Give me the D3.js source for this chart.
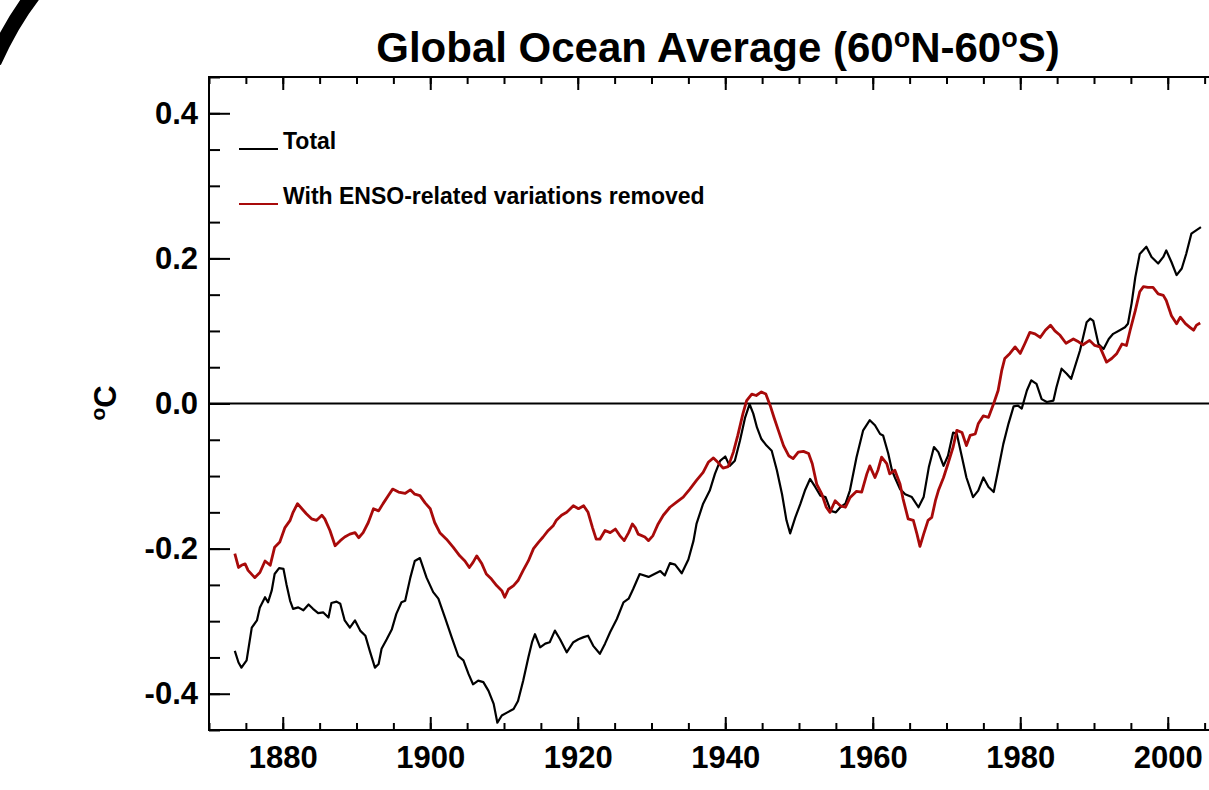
<!DOCTYPE html>
<html>
<head>
<meta charset="utf-8">
<style>
body { margin: 0; background: #fff; }
svg { display: block; }
text { font-family: "Liberation Sans", Arial, Helvetica, sans-serif; font-weight: bold; fill: #000; }
.axis path, .axis line { stroke: #000; stroke-width: 2px; }
</style>
</head>
<body>
<svg width="1209" height="790"></svg>
<script src="https://d3js.org/d3.v7.min.js"></script>
<script>
// values (year, deg C)
var totalYear = [1873.5,1874.0,1874.4,1875.1,1875.8,1876.5,1876.9,1877.6,1878.0,1878.5,1878.9,1879.5,1880.1,1880.5,1881.0,1881.4,1882.1,1882.8,1883.5,1884.1,1884.8,1885.5,1886.2,1886.6,1887.3,1887.8,1888.4,1889.1,1889.8,1890.5,1891.2,1891.8,1892.5,1893.0,1893.4,1894.1,1894.8,1895.4,1896.1,1896.6,1897.3,1897.9,1898.6,1899.5,1900.4,1901.1,1902.0,1902.9,1903.8,1904.5,1905.2,1905.8,1906.5,1907.2,1907.9,1908.6,1909.1,1909.7,1910.4,1911.3,1911.9,1912.6,1913.3,1913.8,1914.2,1914.9,1915.6,1916.2,1916.9,1917.6,1918.5,1919.4,1920.1,1920.8,1921.4,1922.1,1923.0,1923.7,1924.4,1925.3,1926.2,1926.9,1927.5,1928.4,1929.6,1931.2,1931.8,1932.5,1933.2,1934.1,1935.0,1935.7,1936.1,1937.0,1937.9,1938.6,1939.3,1940.0,1940.6,1941.3,1942.0,1942.7,1943.3,1943.8,1944.3,1944.9,1945.6,1946.3,1947.0,1947.7,1948.3,1948.8,1949.5,1950.2,1950.8,1951.5,1952.2,1952.9,1953.6,1954.3,1955.0,1955.6,1956.3,1956.9,1957.8,1958.7,1959.6,1960.3,1961.0,1961.4,1962.1,1962.6,1963.0,1963.7,1964.4,1965.3,1966.2,1966.9,1967.6,1968.3,1968.9,1969.6,1970.2,1970.9,1971.4,1972.1,1972.7,1973.6,1974.3,1975.0,1975.7,1976.4,1977.0,1977.7,1978.4,1979.1,1979.7,1980.2,1980.9,1981.5,1982.2,1982.9,1983.6,1984.5,1984.9,1985.6,1986.3,1986.9,1988.1,1989.0,1989.5,1989.9,1990.6,1991.3,1992.0,1992.6,1993.5,1994.2,1994.6,1995.1,1995.6,1996.2,1997.1,1997.8,1998.7,1999.4,1999.8,2000.5,2001.2,2001.9,2002.5,2003.2,2003.9,2004.5];
var totalTemp = [-0.341,-0.357,-0.364,-0.354,-0.309,-0.299,-0.281,-0.267,-0.274,-0.258,-0.235,-0.227,-0.228,-0.249,-0.272,-0.283,-0.281,-0.285,-0.277,-0.283,-0.289,-0.288,-0.295,-0.275,-0.273,-0.276,-0.299,-0.309,-0.299,-0.313,-0.320,-0.341,-0.364,-0.359,-0.338,-0.325,-0.311,-0.290,-0.274,-0.272,-0.240,-0.217,-0.213,-0.240,-0.260,-0.269,-0.295,-0.322,-0.348,-0.354,-0.373,-0.387,-0.382,-0.384,-0.396,-0.414,-0.440,-0.430,-0.426,-0.421,-0.410,-0.382,-0.350,-0.329,-0.318,-0.336,-0.331,-0.329,-0.313,-0.325,-0.343,-0.329,-0.325,-0.322,-0.320,-0.334,-0.345,-0.331,-0.315,-0.297,-0.274,-0.269,-0.256,-0.235,-0.239,-0.231,-0.237,-0.220,-0.222,-0.234,-0.215,-0.189,-0.166,-0.138,-0.120,-0.097,-0.079,-0.073,-0.086,-0.079,-0.051,-0.019,-0.001,-0.014,-0.033,-0.049,-0.058,-0.065,-0.092,-0.125,-0.161,-0.179,-0.157,-0.138,-0.120,-0.104,-0.115,-0.127,-0.129,-0.148,-0.150,-0.143,-0.138,-0.120,-0.074,-0.037,-0.023,-0.030,-0.042,-0.044,-0.069,-0.092,-0.102,-0.118,-0.125,-0.129,-0.143,-0.129,-0.088,-0.060,-0.067,-0.086,-0.072,-0.040,-0.042,-0.074,-0.102,-0.129,-0.120,-0.102,-0.115,-0.122,-0.092,-0.056,-0.028,-0.004,-0.003,-0.007,0.018,0.032,0.027,0.006,0.002,0.004,0.022,0.048,0.041,0.034,0.073,0.112,0.117,0.114,0.082,0.075,0.089,0.096,0.101,0.105,0.110,0.138,0.174,0.206,0.216,0.202,0.193,0.202,0.211,0.195,0.177,0.186,0.206,0.234,0.239,0.243];

var ensoYear = [1873.5,1874.0,1874.4,1874.9,1875.3,1876.2,1876.9,1877.6,1878.3,1878.9,1879.6,1880.3,1881.0,1881.4,1882.0,1882.6,1883.2,1883.9,1884.6,1885.3,1885.7,1886.4,1887.1,1887.8,1888.4,1889.1,1889.8,1890.3,1890.9,1891.6,1892.3,1893.0,1893.6,1894.3,1894.9,1895.7,1896.6,1897.3,1897.9,1898.6,1899.3,1900.0,1900.6,1901.3,1902.2,1903.1,1904.0,1904.7,1905.3,1905.8,1906.3,1907.0,1907.6,1908.3,1909.0,1909.7,1910.1,1910.6,1911.3,1911.9,1912.6,1913.3,1914.0,1914.7,1915.3,1916.0,1916.7,1917.1,1917.8,1918.5,1919.4,1920.1,1920.8,1921.4,1922.0,1922.5,1923.0,1923.7,1924.4,1925.1,1925.7,1926.3,1926.9,1927.4,1927.8,1928.2,1929.1,1929.6,1930.2,1930.9,1931.6,1932.5,1933.4,1934.3,1935.2,1936.1,1937.0,1937.7,1938.4,1939.0,1939.7,1940.4,1941.1,1941.7,1942.4,1942.9,1943.6,1944.2,1944.9,1945.5,1946.1,1946.6,1947.2,1947.9,1948.6,1949.2,1949.9,1950.6,1951.3,1951.8,1952.4,1953.1,1953.7,1954.2,1954.9,1955.6,1956.3,1956.9,1957.8,1958.5,1959.2,1959.6,1960.3,1960.7,1961.2,1961.9,1962.3,1963.0,1963.7,1964.1,1964.8,1965.5,1966.0,1966.4,1966.9,1967.5,1968.0,1968.5,1968.9,1969.6,1970.2,1970.9,1971.4,1972.1,1972.7,1973.2,1973.9,1974.3,1975.0,1975.7,1976.4,1977.0,1977.5,1977.9,1978.6,1979.3,1980.0,1980.6,1981.3,1982.0,1982.7,1983.4,1984.1,1984.7,1985.4,1986.2,1987.2,1987.9,1988.5,1989.4,1990.1,1990.8,1991.7,1992.4,1993.1,1993.8,1994.4,1994.9,1995.6,1996.2,1996.7,1997.3,1998.0,1998.7,1999.4,1999.8,2000.5,2001.2,2001.7,2002.4,2003.0,2003.5,2003.9,2004.4];
var ensoTemp = [-0.207,-0.226,-0.223,-0.221,-0.230,-0.240,-0.233,-0.217,-0.223,-0.198,-0.191,-0.171,-0.161,-0.150,-0.138,-0.145,-0.152,-0.159,-0.161,-0.154,-0.159,-0.175,-0.196,-0.189,-0.184,-0.180,-0.178,-0.185,-0.178,-0.164,-0.145,-0.148,-0.138,-0.127,-0.118,-0.122,-0.124,-0.119,-0.125,-0.127,-0.137,-0.145,-0.164,-0.178,-0.187,-0.198,-0.210,-0.217,-0.226,-0.219,-0.210,-0.221,-0.235,-0.242,-0.251,-0.258,-0.267,-0.256,-0.251,-0.244,-0.230,-0.217,-0.200,-0.191,-0.184,-0.175,-0.168,-0.161,-0.154,-0.150,-0.141,-0.145,-0.141,-0.150,-0.171,-0.187,-0.187,-0.175,-0.178,-0.173,-0.182,-0.189,-0.178,-0.166,-0.171,-0.180,-0.184,-0.189,-0.182,-0.166,-0.154,-0.143,-0.136,-0.129,-0.118,-0.106,-0.095,-0.081,-0.075,-0.081,-0.089,-0.087,-0.067,-0.044,-0.014,0.004,0.013,0.011,0.016,0.013,-0.003,-0.019,-0.037,-0.058,-0.072,-0.076,-0.067,-0.066,-0.069,-0.083,-0.111,-0.125,-0.143,-0.150,-0.134,-0.141,-0.143,-0.130,-0.121,-0.122,-0.097,-0.086,-0.102,-0.092,-0.074,-0.083,-0.097,-0.092,-0.111,-0.131,-0.159,-0.161,-0.180,-0.197,-0.180,-0.161,-0.157,-0.134,-0.120,-0.102,-0.083,-0.060,-0.037,-0.040,-0.058,-0.044,-0.042,-0.028,-0.017,-0.019,0.000,0.018,0.046,0.062,0.069,0.078,0.069,0.082,0.098,0.096,0.091,0.101,0.108,0.100,0.094,0.083,0.089,0.085,0.081,0.087,0.080,0.078,0.057,0.062,0.069,0.082,0.080,0.101,0.128,0.154,0.161,0.160,0.160,0.151,0.149,0.142,0.121,0.110,0.119,0.110,0.105,0.101,0.108,0.111];

var xMajor = [1880, 1900, 1920, 1940, 1960, 1980, 2000];
var xMinor = d3.range(1870, 2011, 5);
var yMajor = [-0.4, -0.2, 0.0, 0.2, 0.4];
var yMinor = d3.range(-0.45, 0.451, 0.05);

var svg = d3.select("svg");

// plot box; right edge runs past the picture
// (don't call it "top": window.top can't be overwritten)
var plotLeft = 209, plotTop = 77, plotBottom = 730;
var x = d3.scaleLinear().domain([1870, 2010]).range([plotLeft, plotLeft + 140 * 7.375]);
var y = d3.scaleLinear().domain([-0.45, 0.45]).range([plotBottom, plotTop]);
var plotRight = x(2010);

var total = totalYear.map(function(d, i) { return [d, totalTemp[i]]; });
var enso = ensoYear.map(function(d, i) { return [d, ensoTemp[i]]; });

// plain hyphen for negatives, like the original
var yFormat = function(d) { return d3.format(".1f")(d).replace("\u2212", "-"); };

// stray pen stroke in the top-left corner
svg.append("path")
  .attr("d", "M-6,62 Q12,22 34,-6")
  .attr("fill", "none")
  .attr("stroke", "#000")
  .attr("stroke-width", 15);

// frame
svg.append("rect")
  .attr("x", plotLeft).attr("y", plotTop)
  .attr("width", plotRight - plotLeft).attr("height", plotBottom - plotTop)
  .attr("fill", "none").attr("stroke", "#000").attr("stroke-width", 2);

// bottom axis, ticks pointing in
svg.append("g").attr("class", "axis")
  .attr("transform", "translate(0," + plotBottom + ")")
  .call(d3.axisBottom(x).tickValues(xMinor).tickSize(-7).tickFormat(""));
svg.append("g").attr("class", "axis")
  .attr("transform", "translate(0," + plotBottom + ")")
  .call(d3.axisBottom(x).tickValues(xMajor).tickSize(-13).tickPadding(16).tickFormat(d3.format("d")))
  .call(function(g) { g.selectAll("text").style("font-size", "31px"); });

// top axis
svg.append("g").attr("class", "axis")
  .attr("transform", "translate(0," + plotTop + ")")
  .call(d3.axisTop(x).tickValues(xMinor).tickSize(-7).tickFormat(""));
svg.append("g").attr("class", "axis")
  .attr("transform", "translate(0," + plotTop + ")")
  .call(d3.axisTop(x).tickValues(xMajor).tickSize(-13).tickFormat(""));

// left axis
svg.append("g").attr("class", "axis")
  .attr("transform", "translate(" + plotLeft + ",0)")
  .call(d3.axisLeft(y).tickValues(yMinor).tickSize(-11).tickFormat(""));
svg.append("g").attr("class", "axis")
  .attr("transform", "translate(" + plotLeft + ",0)")
  .call(d3.axisLeft(y).tickValues(yMajor).tickSize(-21).tickPadding(11).tickFormat(yFormat))
  .call(function(g) { g.selectAll("text").style("font-size", "31px"); });

svg.selectAll(".axis .domain").remove();

// zero line
svg.append("line")
  .attr("x1", plotLeft).attr("x2", plotRight)
  .attr("y1", y(0)).attr("y2", y(0))
  .attr("stroke", "#000").attr("stroke-width", 2);

var line = d3.line()
  .x(function(d) { return x(d[0]); })
  .y(function(d) { return y(d[1]); });

svg.append("path")
  .datum(total)
  .attr("fill", "none")
  .attr("stroke", "#000")
  .attr("stroke-width", 2.2)
  .attr("stroke-linejoin", "round")
  .attr("d", line);

svg.append("path")
  .datum(enso)
  .attr("fill", "none")
  .attr("stroke", "#a80a0a")
  .attr("stroke-width", 2.8)
  .attr("stroke-linejoin", "round")
  .attr("d", line);

// legend
var legend = [["Total", "#000", 149], ["With ENSO-related variations removed", "#a80a0a", 204]];
legend.forEach(function(l) {
  svg.append("line")
    .attr("x1", 239).attr("x2", 278)
    .attr("y1", l[2]).attr("y2", l[2])
    .attr("stroke", l[1]).attr("stroke-width", 2);
  svg.append("text")
    .attr("x", 283).attr("y", l[2])
    .style("font-size", "23px")
    .text(l[0]);
});

// title with raised degree marks
var title = svg.append("text")
  .attr("x", 718).attr("y", 62)
  .attr("text-anchor", "middle")
  .style("font-size", "42px");
title.append("tspan").text("Global Ocean Average (60");
title.append("tspan").attr("dy", -15).style("font-size", "27px").text("o");
title.append("tspan").attr("dy", 15).text("N-60");
title.append("tspan").attr("dy", -15).style("font-size", "27px").text("o");
title.append("tspan").attr("dy", 15).text("S)");

// y label
var ylab = svg.append("text")
  .attr("transform", "translate(116,403) rotate(-90)")
  .attr("text-anchor", "middle")
  .style("font-size", "31px");
ylab.append("tspan").attr("dy", -11).style("font-size", "21px").text("o");
ylab.append("tspan").attr("dy", 11).text("C");
</script>
</body>
</html>
